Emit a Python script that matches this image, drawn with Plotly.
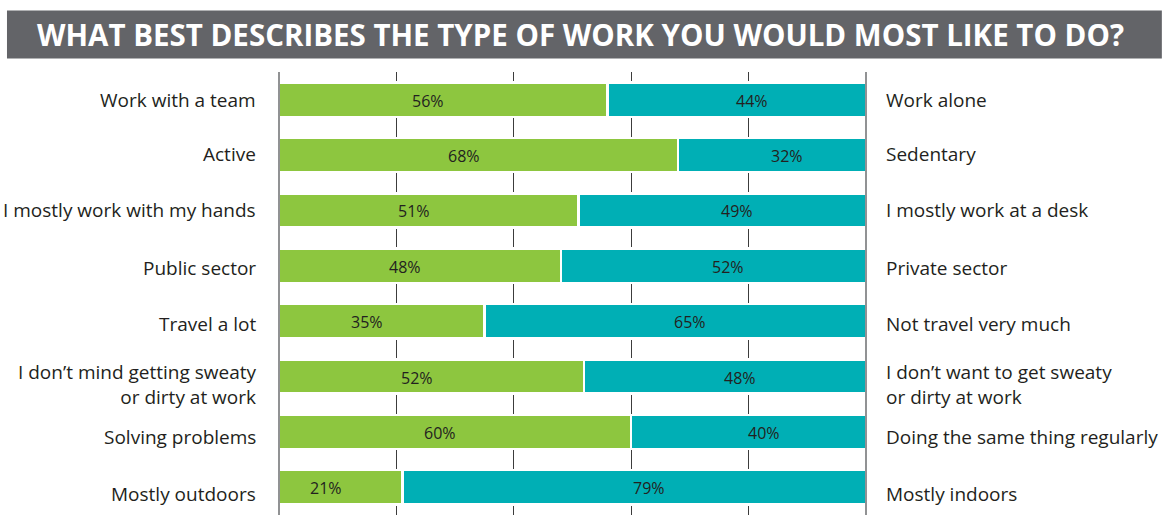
import plotly.graph_objects as go

# Survey: paired work preferences, share choosing each side (%)
left_labels = [
    "Work with a team",
    "Active",
    "I mostly work with my hands",
    "Public sector",
    "Travel a lot",
    "I don\u2019t mind getting sweaty<br>or dirty at work",
    "Solving problems",
    "Mostly outdoors",
]
right_labels = [
    "Work alone",
    "Sedentary",
    "I mostly work at a desk",
    "Private sector",
    "Not travel very much",
    "I don\u2019t want to get sweaty<br>or dirty at work",
    "Doing the same thing regularly",
    "Mostly indoors",
]
left_values = [56, 68, 51, 48, 35, 52, 60, 21]
right_values = [44, 32, 49, 52, 65, 48, 40, 79]
tick_values = [0, 20, 40, 60, 80, 100]
title_text = "WHAT BEST DESCRIBES THE TYPE OF WORK YOU WOULD MOST LIKE TO DO?"

GREEN = "#8DC63F"
TEAL = "#00AFB5"
TITLE_BG = "#636468"
INK = "#231F20"
FONT = "Open Sans"

# small vertical nudges (px) for the side captions
label_nudge = [0, 1, 0, -2, -3, -8, -5, -7]
# percentage labels sit a little toward the outer end of each segment
pct_shift = 15

rows = list(range(len(left_labels)))

fig = go.Figure()
for vals, color in ((left_values, GREEN), (right_values, TEAL)):
    fig.add_trace(go.Bar(
        y=rows, x=vals, orientation="h",
        marker=dict(color=color, line=dict(color="white", width=2.5)),
        width=0.62,
        hoverinfo="skip", showlegend=False,
    ))

annotations = []
# value labels inside each segment
for r, lv, rv in zip(rows, left_values, right_values):
    annotations.append(dict(
        x=lv / 2, xref="x", y=r, yref="y", text=f"{lv}%", showarrow=False,
        xanchor="center", yanchor="middle", xshift=-pct_shift, yshift=-1,
        font=dict(family=FONT, size=16, color=INK),
    ))
    annotations.append(dict(
        x=lv + rv / 2, xref="x", y=r, yref="y", text=f"{rv}%", showarrow=False,
        xanchor="center", yanchor="middle", xshift=pct_shift, yshift=-1,
        font=dict(family=FONT, size=16, color=INK),
    ))
# captions on both sides
for r, lab in zip(rows, left_labels):
    annotations.append(dict(
        x=-0.036, xref="paper", y=r, yref="y", text=lab, showarrow=False,
        xanchor="right", yanchor="middle", align="right", yshift=label_nudge[r],
        font=dict(family=FONT, size=19, color=INK),
    ))
for r, lab in zip(rows, right_labels):
    annotations.append(dict(
        x=1.031, xref="paper", y=r, yref="y", text=lab, showarrow=False,
        xanchor="left", yanchor="middle", align="left", yshift=label_nudge[r],
        font=dict(family=FONT, size=19, color=INK),
    ))
annotations.append(dict(
    x=0.513, xref="paper", y=1.085, yref="paper", text=f"<b>{title_text}</b>",
    showarrow=False, xanchor="center", yanchor="middle",
    font=dict(family=FONT, size=29.5, color="white"),
))

shapes = [
    # title banner
    dict(type="rect", xref="paper", yref="paper", x0=-0.4634, x1=1.504,
         y0=1.0305, y1=1.1388, fillcolor=TITLE_BG, line=dict(width=0), layer="below"),
    # frame lines at 0% and 100%
    dict(type="line", xref="x domain", yref="paper", x0=0, x1=0, y0=0, y1=1,
         line=dict(color="#6D6E71", width=1.5), layer="above"),
    dict(type="line", xref="x domain", yref="paper", x0=1, x1=1, y0=0, y1=1,
         line=dict(color="#6D6E71", width=1.5), layer="above"),
]

fig.update_layout(
    barmode="stack",
    width=1171, height=523,
    margin=dict(l=279, r=305, t=72, b=8),
    paper_bgcolor="white", plot_bgcolor="white",
    xaxis=dict(range=[0, 100], tickvals=tick_values, showticklabels=False,
               showgrid=True, gridcolor="#3C3C3C", gridwidth=1,
               zeroline=False, showline=False, fixedrange=True),
    yaxis=dict(range=[len(rows) - 0.5, -0.5], showticklabels=False,
               showgrid=False, zeroline=False, showline=False, fixedrange=True),
    annotations=annotations,
    shapes=shapes,
)

fig.write_html("out.html", config={"displayModeBar": False})
